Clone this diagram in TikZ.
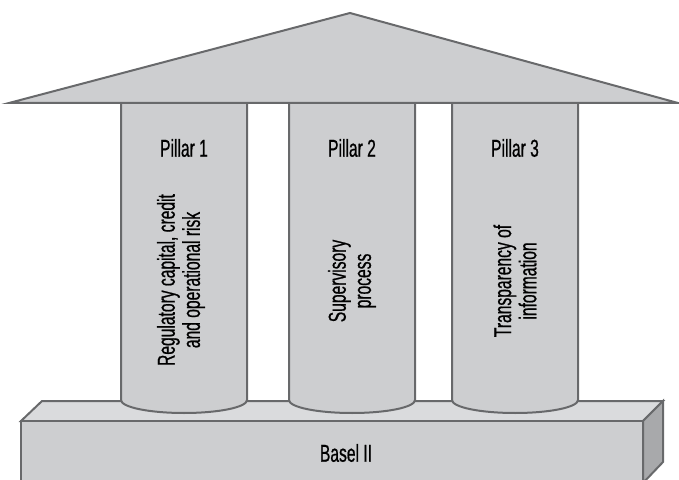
\documentclass[tikz,border=0pt]{standalone}
\usepackage{fontspec}
\setmainfont{Liberation Sans}[FakeStretch=0.64,FakeBold=0.7]
\usepackage{tikz}
\usetikzlibrary{positioning}
\definecolor{stonefill}{RGB}{205,206,208}
\definecolor{stonetop}{RGB}{218,219,221}
\definecolor{stoneside}{RGB}{168,169,171}
\definecolor{stoneedge}{RGB}{104,105,107}
\tikzset{
    stone/.style = {fill=stonefill, draw=stoneedge, line width=1pt, line join=miter},
    pillartext/.style = {font=\fontsize{12.2}{12.6}\selectfont, align=center, rotate=90},
    pillarhead/.style = {font=\fontsize{12.2}{12.6}\selectfont}
}

\begin{document}
\begin{tikzpicture}[x=0.5pt,y=-0.5pt]
                \useasboundingbox (0,0) rectangle (679,480);

                %% base slab
                \draw[stone, fill=stonetop] (21,421) -- (42,401) -- (663,401) -- (643,421) -- cycle;
                \draw[stone, fill=stoneside] (643,421) -- (663,401) -- (663,462) -- (643,483) -- cycle;
                \draw[stone] (21,483) -- (21,421) -- (643,421) -- (643,483);
                \node[pillarhead] (basel) at (346,453) {Basel II};

                %% pillars
                \draw[stone] (121,103) -- (121,400) .. controls (121,407.2) and (149.2,413) .. (184,413)
                    .. controls (218.8,413) and (247,407.2) .. (247,400) -- (247,103);
                \draw[stone] (289,103) -- (289,400) .. controls (289,407.2) and (317.2,413) .. (352,413)
                    .. controls (386.8,413) and (415,407.2) .. (415,400) -- (415,103);
                \draw[stone] (452,103) -- (452,400) .. controls (452,407.2) and (480.2,413) .. (515,413)
                    .. controls (549.8,413) and (578,407.2) .. (578,400) -- (578,103);

                %% roof
                \draw[stone] (9,103) -- (350,13) -- (678,103) -- cycle;

                %% pillar text
                \node[pillarhead] (head1) at (184,148) {Pillar 1};
                \node[pillarhead] (head2) at (352,148) {Pillar 2};
                \node[pillarhead] (head3) at (515,148) {Pillar 3};

                \node[pillartext] (text1) at (181,280) {Regulatory capital, credit\\and operational risk};
                \node[pillartext] (text2) at (352,281) {Supervisory\\process};
                \node[pillartext] (text3) at (515,281) {Transparency of\\information};

\end{tikzpicture}
\end{document}
